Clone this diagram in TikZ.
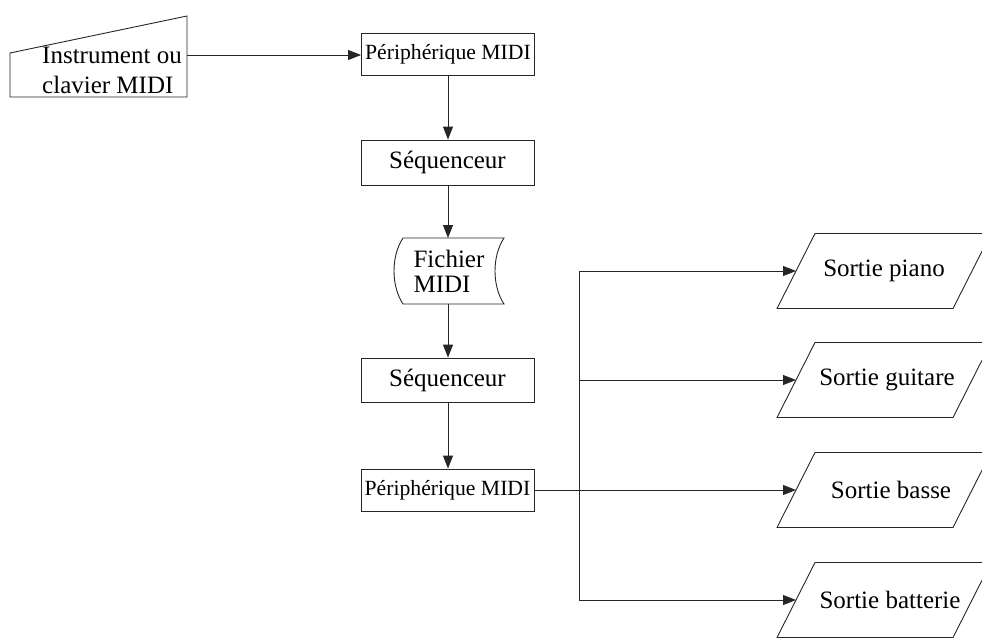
\documentclass[tikz,border=0pt]{standalone}
\usepackage{fontspec}
\setmainfont{Liberation Serif}
\usetikzlibrary{arrows.meta}
\begin{document}
\begin{tikzpicture}[x=1pt,y=-1pt,
  ln/.style={draw=black!85,line width=0.9pt},
  arr/.style={ln,-{Triangle[length=13pt,width=10pt]}},
  big/.style={font=\fontsize{25}{25}\selectfont,inner sep=0pt},
  small/.style={font=\fontsize{21.7}{21.7}\selectfont,inner sep=0pt},
  boxa/.style={ln,rectangle,minimum width=173pt,anchor=center},
]
\useasboundingbox (0,0) rectangle (982,637);

% manual input
\draw[ln] (10,53) -- (187,16) -- (187,97) -- (10,97) -- cycle;
\node[big,align=left] (instr) at (112,70) {Instrument ou\\[5pt]clavier MIDI};
\coordinate (instrE) at (187,55);

% main column
\node[boxa,small,minimum height=42pt] (p1) at (448,54) {Périphérique MIDI};
\node[boxa,big,minimum height=45pt] (s1) at (447.5,162.5) {Séquenceur};
\draw[ln] (403,238) -- (504,238) .. controls (492,256) and (492,286) .. (504,304)
  -- (403,304) .. controls (391,286) and (391,256) .. (403,238);
\node[big,align=left] (fich) at (449,271) {Fichier\\MIDI};
\coordinate (fichN) at (448,238);
\coordinate (fichS) at (448,304);
\node[boxa,big,minimum height=44pt] (s2) at (447.5,380) {Séquenceur};
\node[boxa,small,minimum height=42pt] (p2) at (447.5,490) {Périphérique MIDI};

\draw[arr] (instrE) -- (instrE -| p1.west);
\draw[arr] (p1.south -| fichN) -- (s1.north -| fichN);
\draw[arr] (s1.south -| fichN) -- (fichN);
\draw[arr] (fichS) -- (s2.north -| fichS);
\draw[arr] (s2.south -| fichS) -- (p2.north -| fichS);

% branch
\coordinate (br) at (579,490);
\coordinate (brTop) at (579,271);
\coordinate (brBot) at (579,600);
\draw[ln] (p2.east) -- (br);
\draw[ln] (brTop) -- (brBot);

\foreach \n/\y/\cx/\t in {piano/271/884/Sortie piano, guitare/380/887/Sortie guitare, basse/490/891/Sortie basse, batterie/600/890/Sortie batterie}{
  \draw[ln] (777,\y+37.5) -- (815,\y-37.5) -- (991,\y-37.5) -- (953,\y+37.5) -- cycle;
  \node[big] (\n) at (\cx,\y) {\t};
  \coordinate (\n W) at (796,\y);
  \draw[arr] (br |- \n W) -- (\n W);
}
\end{tikzpicture}
\end{document}
